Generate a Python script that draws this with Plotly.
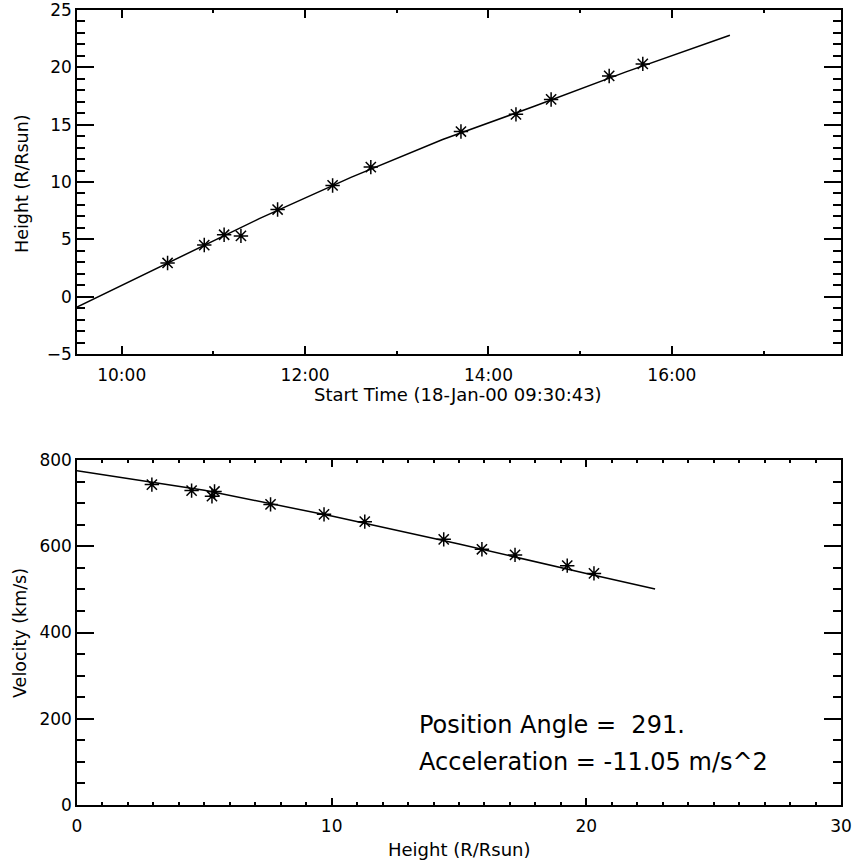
import plotly.graph_objects as go

# height-time measurements (18-Jan-2000)
times = ["2000-01-18 10:30", "2000-01-18 10:54", "2000-01-18 11:07", "2000-01-18 11:18",
         "2000-01-18 11:42", "2000-01-18 12:18", "2000-01-18 12:43", "2000-01-18 13:42",
         "2000-01-18 14:18", "2000-01-18 14:41", "2000-01-18 15:19", "2000-01-18 15:41"]
heights = [2.94, 4.5, 5.4, 5.3, 7.6, 9.7, 11.3, 14.4, 15.9, 17.2, 19.25, 20.3]
velocities = [743, 729, 727, 716, 697, 674, 657, 616, 593, 580, 555, 537]

# fitted curves
fit_times = ["2000-01-18 09:30:43", "2000-01-18 10:30", "2000-01-18 11:30", "2000-01-18 12:30",
             "2000-01-18 13:30", "2000-01-18 14:30", "2000-01-18 15:30", "2000-01-18 16:38"]
fit_heights = [-0.9, 2.9, 6.8, 10.4, 13.7, 16.6, 19.6, 22.8]
fit_h = [0, 5, 10, 15, 20, 22.7]
fit_v = [775, 730, 670, 605, 537, 501]

W, H = 854, 865
FONT = "DejaVu Sans"


def px(x0, x1):
    return [x0 / W, x1 / W]


def py(top, bottom):
    return [1 - bottom / H, 1 - top / H]


def pt(x, y, xanchor="center"):
    return dict(x=x / W, y=1 - y / H, xref="paper", yref="paper", showarrow=False,
                xanchor=xanchor, yanchor="middle")


fig = go.Figure()

star = dict(symbol="asterisk-open", size=12, color="black", line=dict(color="black", width=1.5))

fig.add_trace(go.Scatter(x=fit_times, y=fit_heights, mode="lines",
                         line=dict(color="black", width=1.5), xaxis="x", yaxis="y"))
fig.add_trace(go.Scatter(x=times, y=heights, mode="markers", marker=star, xaxis="x", yaxis="y"))
fig.add_trace(go.Scatter(x=fit_h, y=fit_v, mode="lines",
                         line=dict(color="black", width=1.5), xaxis="x2", yaxis="y2"))
fig.add_trace(go.Scatter(x=heights, y=velocities, mode="markers", marker=star, xaxis="x2", yaxis="y2"))

common = dict(showline=True, linecolor="black", linewidth=1.5, mirror="ticks", ticks="inside",
              tickcolor="black", tickwidth=1.5, showgrid=False, zeroline=False, automargin=False,
              ticklabeloverflow="allow", tickfont=dict(family=FONT, size=17, color="black"))

fig.update_layout(
    width=W, height=H, showlegend=False,
    margin=dict(l=0, r=0, t=0, b=0),
    paper_bgcolor="white", plot_bgcolor="white",
    xaxis=dict(common, domain=px(77, 841), anchor="y", type="date",
               range=["2000-01-18 09:30:43", "2000-01-18 17:50:43"],
               tick0="2000-01-18 10:00", dtick=7200000, tickformat="%H:%M",
               ticklen=8, ticklabelstandoff=5,
               minor=dict(ticks="inside", dtick=3600000, ticklen=3, tickcolor="black", tickwidth=1.5)),
    yaxis=dict(common, domain=py(10, 354), anchor="x", range=[-5, 25], dtick=5,
               ticklen=17, ticklabelstandoff=0,
               minor=dict(ticks="inside", dtick=1, ticklen=8, tickcolor="black", tickwidth=1.5)),
    xaxis2=dict(common, domain=px(77, 841), anchor="y2", range=[0, 30], dtick=10,
                ticklen=7, ticklabelstandoff=5,
                minor=dict(ticks="inside", dtick=1, ticklen=3.5, tickcolor="black", tickwidth=1.5)),
    yaxis2=dict(common, domain=py(460, 805), anchor="x2", range=[0, 800], dtick=200,
                ticklen=17, ticklabelstandoff=0,
                minor=dict(ticks="inside", dtick=50, ticklen=8, tickcolor="black", tickwidth=1.5)),
)

xtitle_font = dict(family=FONT, size=18, color="black")
ytitle_font = dict(family=FONT, size=17.5, color="black")
text_font = dict(family=FONT, size=24, color="black")

fig.add_annotation(text="Height (R/Rsun)", textangle=-90, font=ytitle_font, **pt(22, 184))
fig.add_annotation(text="Start Time (18-Jan-00 09:30:43)", font=xtitle_font, **pt(458, 395))
fig.add_annotation(text="Velocity (km/s)", textangle=-90, font=ytitle_font, **pt(20, 633))
fig.add_annotation(text="Height (R/Rsun)", font=xtitle_font, **pt(459, 849))
fig.add_annotation(text="Position Angle =  291.", font=text_font, **pt(417, 725, "left"))
fig.add_annotation(text="Acceleration = -11.05 m/s^2", font=text_font, **pt(417, 762, "left"))

# the page body has a default 8px margin; drop it so the figure fills the window
fig.write_html("out.html", config={"displayModeBar": False},
               post_script="document.body.style.margin='0';")
